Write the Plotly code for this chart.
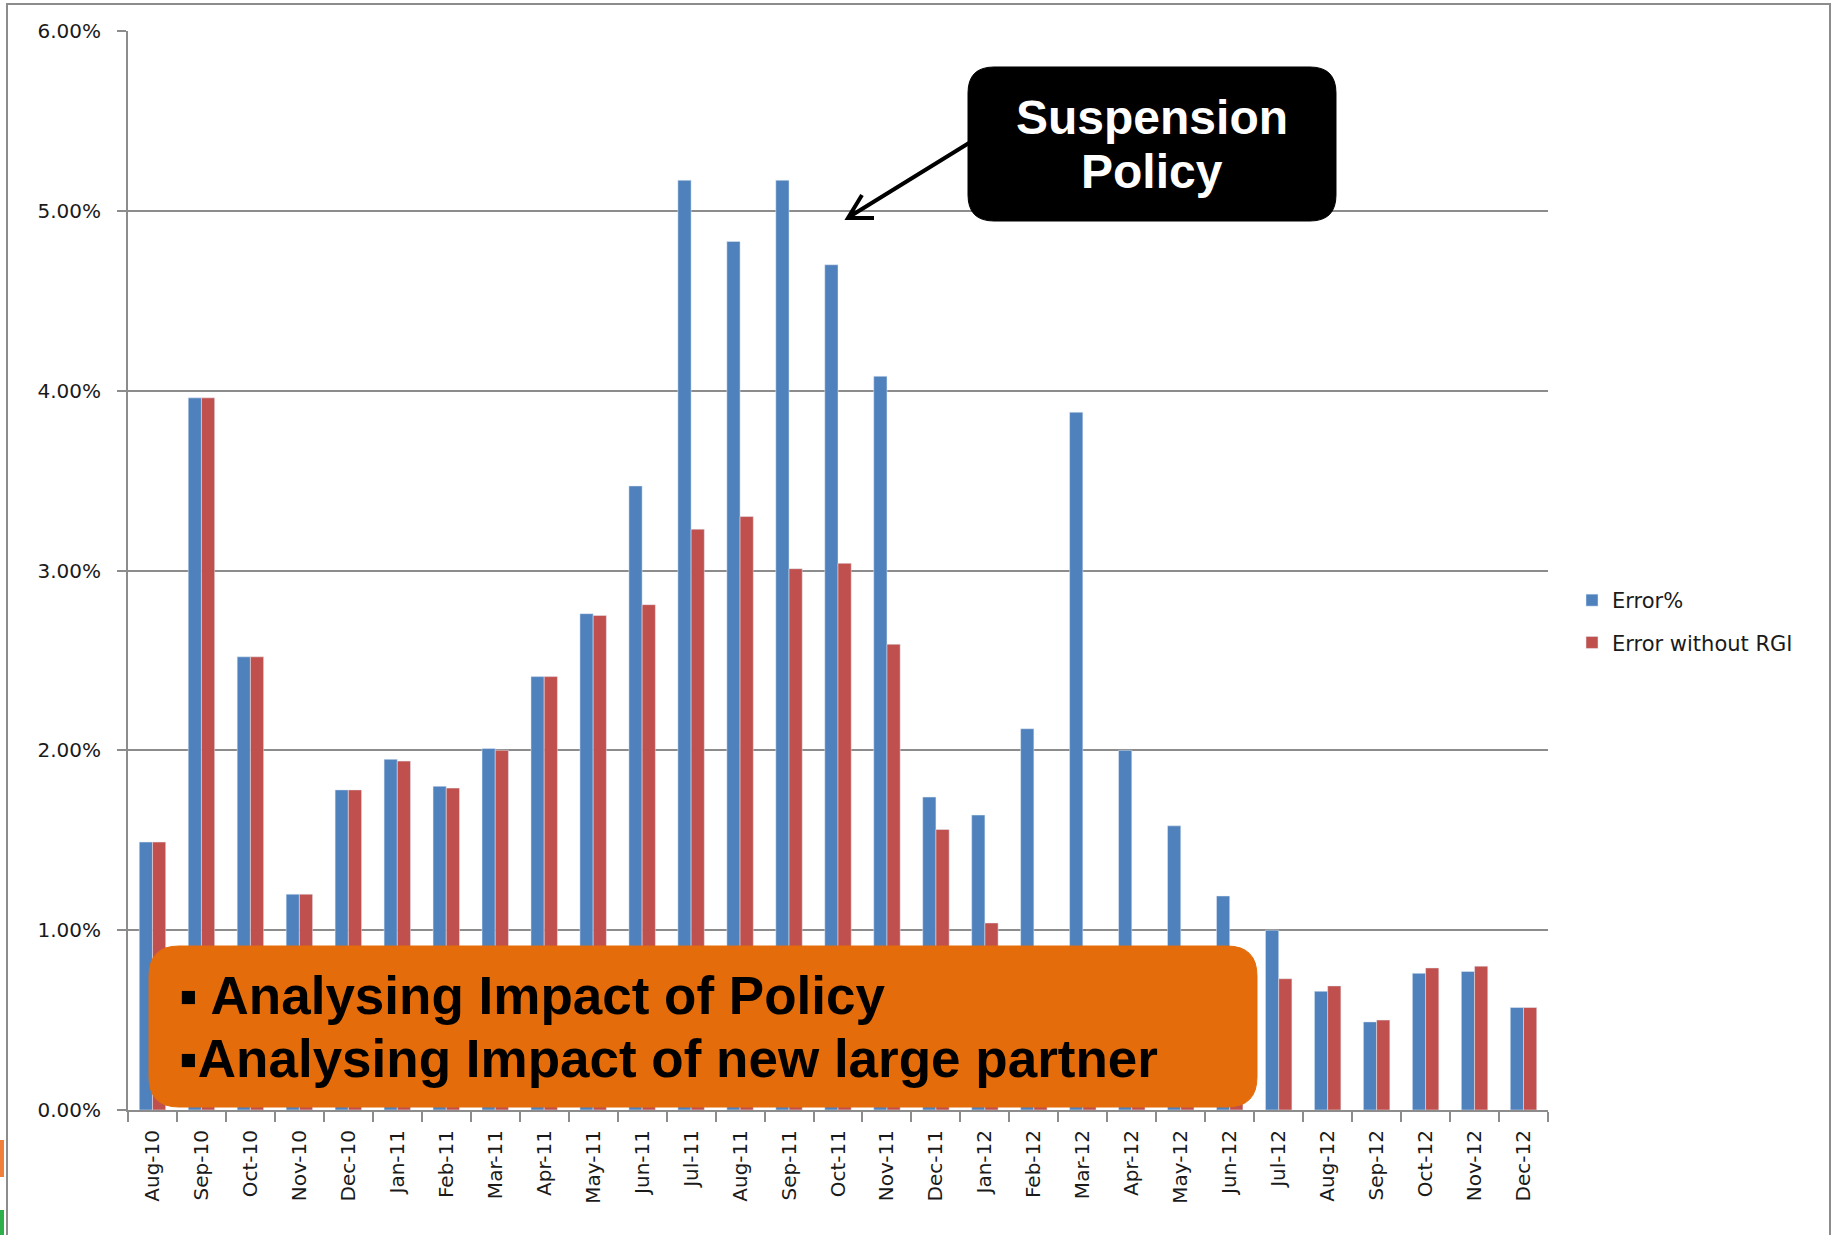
import plotly.graph_objects as go

months = ["Aug-10", "Sep-10", "Oct-10", "Nov-10", "Dec-10", "Jan-11", "Feb-11", "Mar-11",
          "Apr-11", "May-11", "Jun-11", "Jul-11", "Aug-11", "Sep-11", "Oct-11", "Nov-11",
          "Dec-11", "Jan-12", "Feb-12", "Mar-12", "Apr-12", "May-12", "Jun-12", "Jul-12",
          "Aug-12", "Sep-12", "Oct-12", "Nov-12", "Dec-12"]

error_pct = [1.49, 3.96, 2.52, 1.20, 1.78, 1.95, 1.80, 2.01, 2.41, 2.76, 3.47, 5.17, 4.83, 5.17,
             4.70, 4.08, 1.74, 1.64, 2.12, 3.88, 2.00, 1.58, 1.19, 1.00, 0.66, 0.49, 0.76, 0.77, 0.57]

# Feb-12 .. Jun-12 sit behind the orange call-out box, estimated
error_wo_rgi = [1.49, 3.96, 2.52, 1.20, 1.78, 1.94, 1.79, 2.00, 2.41, 2.75, 2.81, 3.23, 3.30, 3.01,
                3.04, 2.59, 1.56, 1.04, 0.85, 0.82, 0.80, 0.78, 0.76, 0.73, 0.69, 0.50, 0.79, 0.80, 0.57]

y_ticks = [0, 1, 2, 3, 4, 5, 6]
y_ticktext = ["%.2f%%" % v for v in y_ticks]

W, H = 1835, 1235
X0, X1, Y0, Y1 = 128, 1548, 31, 1110


def fx(px):
    return (px - X0) / (X1 - X0)


def fy(py):
    return (Y1 - py) / (Y1 - Y0)


def pt(x, y):
    return "%.5f,%.5f" % (fx(x), fy(y))


def rrect(x0, y0, x1, y1, r):
    return ("M " + pt(x0 + r, y0) + " L " + pt(x1 - r, y0) +
            " Q " + pt(x1, y0) + " " + pt(x1, y0 + r) +
            " L " + pt(x1, y1 - r) +
            " Q " + pt(x1, y1) + " " + pt(x1 - r, y1) +
            " L " + pt(x0 + r, y1) +
            " Q " + pt(x0, y1) + " " + pt(x0, y1 - r) +
            " L " + pt(x0, y0 + r) +
            " Q " + pt(x0, y0) + " " + pt(x0 + r, y0) + " Z")


tick_font = dict(family="DejaVu Sans", size=20, color="#1a1a1a")
box_font = "Liberation Sans, Arial"

fig = go.Figure()
fig.add_trace(go.Bar(x=months, y=error_pct, name="Error%", marker_color="#4F81BD",
                     legendgroup="a"))
fig.add_trace(go.Bar(x=months, y=error_wo_rgi, name="Error without RGI", marker_color="#C0504D",
                     legendgroup="b"))

shapes = [
    # outer frame
    dict(type="path", xref="paper", yref="paper",
         path="M " + pt(7, 1240) + " L " + pt(7, 4) + " L " + pt(1830, 4) + " L " + pt(1830, 1240),
         line=dict(color="#8c8c8c", width=2), layer="below"),
    # slide decoration bits at far left
    dict(type="rect", xref="paper", yref="paper", x0=fx(0), x1=fx(4), y0=fy(1177), y1=fy(1140),
         fillcolor="#F07F3C", line_width=0),
    dict(type="rect", xref="paper", yref="paper", x0=fx(0), x1=fx(4), y0=fy(1235), y1=fy(1210),
         fillcolor="#2DB04B", line_width=0),
    # call-out boxes
    dict(type="path", xref="paper", yref="paper", path=rrect(968, 67, 1336, 221, 26),
         fillcolor="black", line=dict(color="black", width=1), layer="above"),
    dict(type="path", xref="paper", yref="paper", path=rrect(149, 946, 1257, 1107, 30),
         fillcolor="#E46C0A", line=dict(color="#E46C0A", width=1), layer="above"),
    # arrow
    dict(type="path", xref="paper", yref="paper",
         path="M " + pt(969, 143) + " L " + pt(849, 217) +
              " M " + pt(874, 218) + " L " + pt(848, 218) + " L " + pt(862, 195),
         line=dict(color="black", width=4), layer="above"),
]

annotations = [
    dict(text="<b>Suspension</b>", x=fx(1152), y=fy(117), xref="paper", yref="paper",
         showarrow=False, xanchor="center", yanchor="middle",
         font=dict(family=box_font, size=48, color="white")),
    dict(text="<b>Policy</b>", x=fx(1152), y=fy(172), xref="paper", yref="paper",
         showarrow=False, xanchor="center", yanchor="middle",
         font=dict(family=box_font, size=48, color="white")),
    dict(text="<b>▪ Analysing Impact of Policy</b>", x=fx(177), y=fy(995), xref="paper",
         yref="paper", showarrow=False, xanchor="left", yanchor="middle",
         font=dict(family=box_font, size=53, color="black")),
    dict(text="<b>▪Analysing Impact of new large partner</b>", x=fx(177), y=fy(1058),
         xref="paper", yref="paper", showarrow=False, xanchor="left", yanchor="middle",
         font=dict(family=box_font, size=53, color="black")),
]

fig.update_layout(
    width=W, height=H,
    margin=dict(l=X0, r=W - X1, t=Y0, b=H - Y1, autoexpand=False),
    paper_bgcolor="white", plot_bgcolor="white",
    barmode="group", bargap=0.46, bargroupgap=0,
    showlegend=True,
    legend=dict(x=fx(1572), y=fy(580), xanchor="left", yanchor="top",
                traceorder="grouped", tracegroupgap=12,
                font=dict(family="DejaVu Sans", size=21, color="#1a1a1a"),
                bgcolor="rgba(0,0,0,0)"),
    shapes=shapes,
    annotations=annotations,
)

fig.update_xaxes(type="category", tickangle=-90, tickfont=tick_font,
                 showline=True, linecolor="#8c8c8c", linewidth=2,
                 ticks="outside", tickson="boundaries", ticklen=10, tickcolor="#8c8c8c",
                 tickwidth=2, showgrid=False, ticklabelstandoff=10)
fig.update_yaxes(range=[0, 6], tickvals=y_ticks, ticktext=y_ticktext,
                 tickfont=tick_font, showline=True, linecolor="#8c8c8c", linewidth=2,
                 ticks="outside", ticklen=9, tickcolor="#8c8c8c", tickwidth=2,
                 showgrid=True, gridcolor="#8c8c8c", gridwidth=1.5, zeroline=False,
                 ticklabelstandoff=12)

# page body has a default 8px margin; drop it so the figure sits at the window origin
fig.write_html("out.html", config={"displayModeBar": False},
               post_script="document.body.style.margin='0';"
                           "document.body.style.overflow='hidden';")
